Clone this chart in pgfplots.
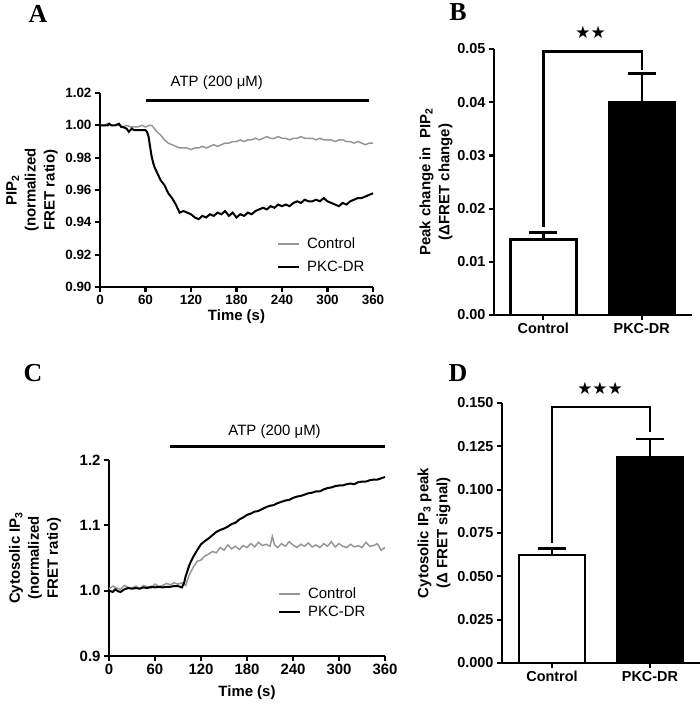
\documentclass[border=0pt]{standalone}
\usepackage{fontspec}
\setmainfont{Liberation Sans}
\newfontfamily\serifb{Liberation Serif}
\newfontfamily\djv{DejaVu Sans}
\usepackage{pgfplots}
\pgfplotsset{compat=1.18}
\definecolor{ctrlgray}{RGB}{150,150,150}
\pgfplotsset{
  gp/.style={
    scale only axis,
    anchor=south west,
    axis lines=left,
    axis line style={-, line width=2.2bp},
    tick align=outside,
    major tick length=5bp,
    tick style={line width=2.2bp, black},
    /pgf/number format/assume math mode=true,
    every axis label/.append style={font=\bfseries\fontsize{15}{19}\selectfont},
    clip=false,
    scaled y ticks=false,
  },
  gpleg/.style={
    legend style={draw=none, fill=none, font=\fontsize{15}{15}\selectfont, inner sep=0pt, column sep=5bp},
    legend cell align=left,
    legend image code/.code={\draw[##1] (0bp,0bp) -- (21bp,0bp);},
  },
  prec/.style={/pgf/number format/fixed, /pgf/number format/fixed zerofill, /pgf/number format/precision=#1},
  eb/.style={black, line width=2.5bp, mark=none},
}
\begin{document}
\begin{tikzpicture}
\useasboundingbox (0bp,0bp) rectangle (700bp,-704bp);
% ---------------- Panel A ----------------
\node[font=\serifb\bfseries\fontsize{26}{26}\selectfont] at (38bp,-13.5bp) {A};
\begin{axis}[gp, gpleg,
  at={(100bp,-287bp)}, width=273bp, height=194bp,
  xmin=0, xmax=360, ymin=0.90, ymax=1.02,
  xtick={0,60,120,180,240,300,360},
  ytick={0.90,0.92,0.94,0.96,0.98,1.00,1.02},
  every tick label/.append style={font=\bfseries\fontsize{13.5}{13.5}\selectfont},
  yticklabel style={prec=2},
  xlabel={Time (s)},
  ylabel={PIP\textsubscript{2}\\(normalized\\FRET ratio)},
  every axis y label/.style={at={(axis description cs:0,0.5)}, xshift=-68bp, rotate=90, anchor=center, align=center},
  every axis x label/.style={at={(axis description cs:0.5,0)}, yshift=-30bp, anchor=center},
  legend style={at={(axis description cs:0.648,0.265)}, anchor=north west, row sep=7bp},
]
\addplot[ctrlgray, line width=1.5bp] coordinates {
(0,1.000)(5,1.000)(10,1.001)(15,1.000)(20,1.000)(25,1.000)(30,0.999)(35,1.000)(40,0.999)(45,0.999)(50,0.999)(55,1.000)(60,0.999)(65,1.000)(68,1.000)(70,0.999)(75,0.996)(80,0.994)(85,0.991)(90,0.989)(95,0.988)(100,0.987)(105,0.986)(110,0.986)(115,0.986)(120,0.985)(125,0.986)(130,0.986)(135,0.987)(140,0.986)(145,0.987)(150,0.988)(155,0.987)(160,0.988)(165,0.989)(170,0.989)(175,0.990)(180,0.990)(185,0.991)(190,0.990)(195,0.991)(200,0.991)(205,0.992)(210,0.991)(215,0.992)(220,0.993)(225,0.992)(230,0.992)(235,0.993)(240,0.992)(245,0.992)(250,0.991)(255,0.992)(260,0.992)(265,0.993)(270,0.992)(275,0.992)(280,0.992)(285,0.991)(290,0.992)(295,0.991)(300,0.991)(305,0.991)(310,0.990)(315,0.991)(320,0.991)(325,0.990)(330,0.990)(335,0.989)(340,0.990)(345,0.989)(350,0.988)(355,0.989)(360,0.989)
};
\addlegendentry{Control}
\addplot[black, line width=2bp] coordinates {
(0,1.000)(5,1.000)(10,1.000)(12,1.001)(15,1.000)(20,1.000)(25,1.001)(28,0.999)(30,0.999)(35,0.998)(38,0.996)(40,0.997)(42,0.998)(45,0.997)(50,0.997)(55,0.997)(60,0.997)(62,0.996)(64,0.993)(66,0.987)(68,0.981)(70,0.977)(72,0.974)(75,0.971)(78,0.968)(80,0.966)(85,0.963)(90,0.958)(95,0.955)(100,0.951)(103,0.948)(105,0.946)(110,0.947)(115,0.946)(120,0.945)(125,0.943)(130,0.942)(135,0.944)(140,0.943)(145,0.945)(150,0.944)(155,0.946)(160,0.945)(165,0.947)(170,0.944)(175,0.946)(180,0.943)(185,0.945)(190,0.944)(195,0.946)(200,0.945)(205,0.947)(210,0.948)(215,0.949)(220,0.948)(225,0.950)(230,0.949)(235,0.951)(240,0.950)(245,0.951)(250,0.950)(255,0.952)(260,0.953)(265,0.952)(270,0.954)(275,0.953)(280,0.953)(285,0.954)(290,0.953)(295,0.955)(300,0.953)(305,0.952)(310,0.951)(315,0.950)(320,0.952)(325,0.951)(330,0.953)(335,0.954)(340,0.955)(345,0.955)(350,0.956)(355,0.957)(360,0.958)
};
\addlegendentry{PKC-DR}
\draw[line width=3bp] (axis cs:61,1.0155) -- (axis cs:355,1.0155);
\node[font=\fontsize{15}{15}\selectfont] at (axis cs:154,1.0262) {ATP (200 μM)};
\end{axis}
% ---------------- Panel B ----------------
\node[font=\serifb\bfseries\fontsize{26}{26}\selectfont] at (458bp,-12bp) {B};
\begin{axis}[gp,
  at={(494bp,-315bp)}, width=198bp, height=266bp,
  xmin=-0.5, xmax=1.51, ymin=0, ymax=0.05,
  xtick={0,1}, xticklabels={Control,PKC-DR},
  ytick={0,0.01,0.02,0.03,0.04,0.05},
  every tick label/.append style={font=\bfseries\fontsize{14.5}{14.5}\selectfont},
  yticklabel style={prec=2},
  ylabel={Peak change in\ \ PIP\textsubscript{2}\\(ΔFRET change)},
  every axis y label/.style={at={(axis description cs:0,0.5)}, xshift=-58bp, rotate=90, anchor=center, align=center},
]
\addplot[ybar, bar width=66bp, bar shift=0pt, fill=white, draw=black, line width=2.5bp] coordinates {(0,0.0142)};
\addplot[ybar, bar width=66bp, bar shift=0pt, fill=black, draw=black, line width=2.5bp] coordinates {(1,0.0399)};
% error bars (SEM, upper)
\addplot[eb] coordinates {(0,0.0142) (0,0.0155)};
\addplot[eb] coordinates {(-0.142,0.0155) (0.142,0.0155)};
\addplot[eb] coordinates {(1,0.0399) (1,0.0454)};
\addplot[eb] coordinates {(0.858,0.0454) (1.142,0.0454)};
% significance bracket
\addplot[eb] coordinates {(0,0.0166) (0,0.0495) (1,0.0495) (1,0.0461)};
\node[font=\djv\fontsize{17}{17}\selectfont] at (axis cs:0.48,0.0532) {★★};
\end{axis}
% ---------------- Panel C ----------------
\node[font=\serifb\bfseries\fontsize{26}{26}\selectfont] at (33bp,-373bp) {C};
\begin{axis}[gp, gpleg,
  at={(109bp,-656bp)}, width=276bp, height=196bp,
  xmin=0, xmax=360, ymin=0.9, ymax=1.2,
  xtick={0,60,120,180,240,300,360},
  ytick={0.9,1.0,1.1,1.2},
  every tick label/.append style={font=\bfseries\fontsize{15}{15}\selectfont},
  yticklabel style={prec=1},
  xlabel={Time (s)},
  ylabel={Cytosolic IP\textsubscript{3}\\(normalized\\FRET ratio)},
  every axis y label/.style={at={(axis description cs:0,0.5)}, xshift=-74bp, rotate=90, anchor=center, align=center},
  every axis x label/.style={at={(axis description cs:0.5,0)}, yshift=-37bp, anchor=center},
  legend style={at={(axis description cs:0.612,0.36)}, anchor=north west, row sep=2bp},
]
\addplot[ctrlgray, line width=1.5bp] coordinates {
(0,1.003)(5,1.007)(10,1.004)(15,1.002)(20,1.008)(25,1.005)(30,1.004)(35,1.007)(40,1.003)(45,1.008)(50,1.006)(55,1.004)(60,1.010)(65,1.006)(70,1.008)(75,1.011)(80,1.009)(85,1.012)(90,1.010)(95,1.012)(100,1.008)(105,1.025)(110,1.036)(115,1.045)(120,1.047)(125,1.053)(130,1.056)(135,1.060)(140,1.058)(145,1.066)(150,1.062)(155,1.070)(160,1.064)(165,1.068)(170,1.063)(175,1.069)(180,1.066)(185,1.072)(190,1.067)(195,1.074)(200,1.069)(205,1.071)(210,1.068)(213,1.083)(216,1.070)(220,1.066)(225,1.072)(230,1.068)(235,1.075)(240,1.070)(245,1.066)(250,1.071)(255,1.068)(260,1.073)(265,1.067)(270,1.070)(275,1.066)(280,1.072)(285,1.068)(290,1.075)(295,1.067)(300,1.072)(305,1.068)(310,1.066)(315,1.071)(320,1.067)(325,1.069)(330,1.066)(335,1.074)(340,1.068)(345,1.069)(350,1.072)(355,1.062)(360,1.066)
};
\addlegendentry{Control}
\addplot[black, line width=2bp] coordinates {
(0,1.000)(5,0.998)(8,1.002)(12,0.999)(15,0.998)(20,1.002)(25,1.004)(30,1.003)(35,1.004)(40,1.003)(45,1.005)(50,1.004)(55,1.006)(60,1.005)(65,1.006)(70,1.005)(75,1.006)(80,1.006)(85,1.007)(90,1.007)(95,1.005)(98,1.012)(100,1.022)(105,1.040)(110,1.052)(115,1.062)(120,1.071)(125,1.076)(130,1.080)(135,1.085)(140,1.090)(145,1.093)(150,1.095)(155,1.098)(160,1.102)(165,1.104)(170,1.109)(175,1.112)(180,1.116)(185,1.118)(190,1.121)(195,1.122)(200,1.125)(205,1.128)(210,1.130)(215,1.131)(220,1.134)(225,1.136)(230,1.138)(235,1.139)(240,1.142)(245,1.144)(250,1.145)(255,1.147)(260,1.149)(265,1.150)(270,1.152)(275,1.152)(280,1.155)(285,1.157)(290,1.158)(295,1.160)(300,1.161)(305,1.161)(310,1.163)(315,1.164)(320,1.163)(325,1.166)(330,1.167)(335,1.167)(340,1.169)(345,1.170)(350,1.170)(355,1.172)(360,1.174)
};
\addlegendentry{PKC-DR}
\draw[line width=3bp] (axis cs:80,1.22) -- (axis cs:360,1.22);
\node[font=\fontsize{15}{15}\selectfont] at (axis cs:216,1.243) {ATP (200 μM)};
\end{axis}
% ---------------- Panel D ----------------
\node[font=\serifb\bfseries\fontsize{26}{26}\selectfont] at (458bp,-373bp) {D};
\begin{axis}[gp,
  at={(502bp,-663bp)}, width=198bp, height=260bp,
  xmin=-0.51, xmax=1.51, ymin=0, ymax=0.15,
  xtick={0,1}, xticklabels={Control,PKC-DR},
  ytick={0,0.025,0.05,0.075,0.1,0.125,0.15},
  every tick label/.append style={font=\bfseries\fontsize{14.5}{14.5}\selectfont},
  yticklabel style={prec=3},
  ylabel={Cytosolic IP\textsubscript{3} peak\\(Δ FRET signal)},
  every axis y label/.style={at={(axis description cs:0,0.5)}, xshift=-68bp, rotate=90, anchor=center, align=center},
]
\addplot[ybar, bar width=66bp, bar shift=0pt, fill=white, draw=black, line width=2.5bp] coordinates {(0,0.0623)};
\addplot[ybar, bar width=66bp, bar shift=0pt, fill=black, draw=black, line width=2.5bp] coordinates {(1,0.1189)};
% error bars (SEM, upper)
\addplot[eb] coordinates {(0,0.0623) (0,0.0662)};
\addplot[eb] coordinates {(-0.143,0.0662) (0.143,0.0662)};
\addplot[eb] coordinates {(1,0.1189) (1,0.1291)};
\addplot[eb] coordinates {(0.857,0.1291) (1.143,0.1291)};
% significance bracket
\addplot[eb] coordinates {(0,0.0694) (0,0.1477) (1,0.1477) (1,0.1333)};
\node[font=\djv\fontsize{17}{17}\selectfont] at (axis cs:0.49,0.1587) {★★★};
\end{axis}
\end{tikzpicture}
\end{document}
